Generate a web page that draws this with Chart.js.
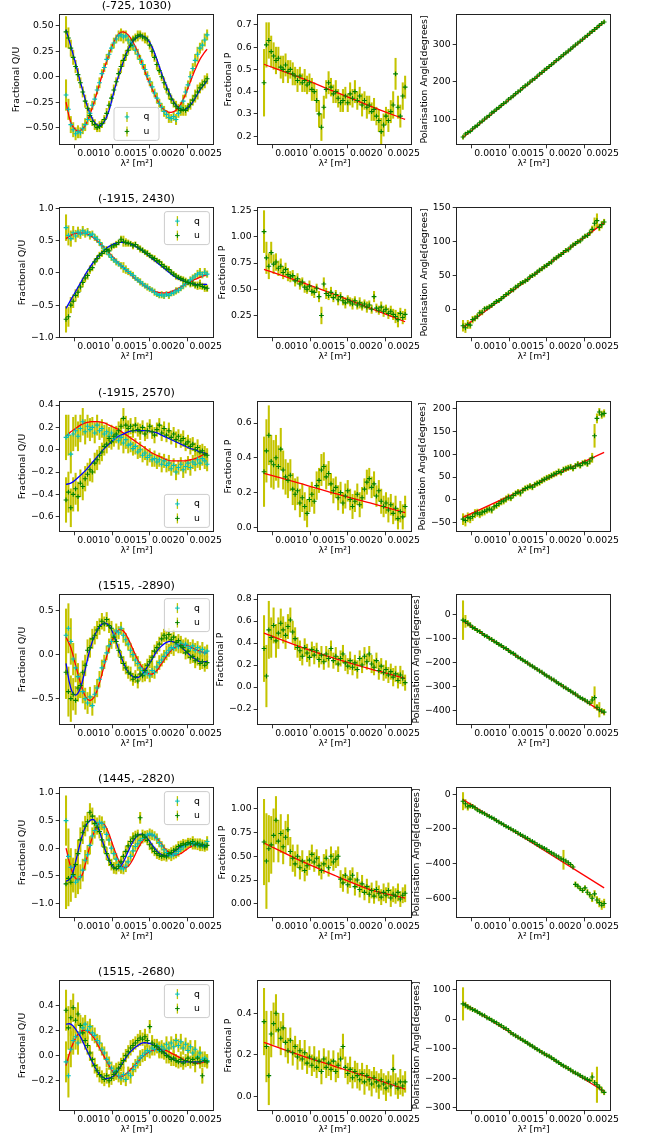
<!DOCTYPE html>
<html>
<head>
<meta charset="utf-8">
<title>Fractional polarisation fits</title>
<script src="https://cdn.jsdelivr.net/npm/chart.js@4.4.1/dist/chart.umd.min.js"></script>
<style>
  html, body { margin: 0; background: #fff; }
  #fig { position: relative; width: 649px; height: 1142px; overflow: hidden; }
  #fig canvas { position: absolute; }
</style>
</head>
<body>
<div id="fig"></div>
<script>
// lambda^2 sample points [m^2]
const lam2 = [
  0.000631, 0.000663, 0.000695, 0.000727, 0.000759, 0.000791, 0.000823, 0.000855, 0.000887, 0.000919,
  0.000951, 0.000983, 0.001015, 0.001047, 0.001079, 0.001111, 0.001143, 0.001175, 0.001207, 0.001239,
  0.001271, 0.001303, 0.001335, 0.001367, 0.001399, 0.001431, 0.001463, 0.001495, 0.001527, 0.001559,
  0.001591, 0.001623, 0.001655, 0.001687, 0.001719, 0.001751, 0.001783, 0.001815, 0.001847, 0.001879,
  0.001911, 0.001943, 0.001975, 0.002007, 0.002039, 0.002071, 0.002103, 0.002135, 0.002167, 0.002199,
  0.002231, 0.002263, 0.002295, 0.002327, 0.002359, 0.002391, 0.002423, 0.002455, 0.002487, 0.002519
];
// where the model curves are evaluated
const lam2Fit = [
  0.000631, 0.000695, 0.000759, 0.000823, 0.000887, 0.000951, 0.001015, 0.001079, 0.001143, 0.001207,
  0.001271, 0.001335, 0.001399, 0.001463, 0.001527, 0.001591, 0.001655, 0.001719, 0.001783, 0.001847,
  0.001911, 0.001975, 0.002039, 0.002103, 0.002167, 0.002231, 0.002295, 0.002359, 0.002423, 0.002487, 0.002519
];
const lam2Lin = [0.000631, 0.0011, 0.001575, 0.00205, 0.002519];
const lam2Ends = [0.000631, 0.002519];
const xTicks = [0.0010, 0.0015, 0.0020, 0.0025];

const positions = ['(-725, 1030)', '(-1915, 2430)', '(-1915, 2570)', '(1515, -2890)', '(1445, -2820)', '(1515, -2680)'];

// ---- (-725, 1030)
const q1 = [-0.18,-0.32,-0.47,-0.52,-0.56,-0.54,-0.55,-0.51,-0.47,-0.42,
  -0.36,-0.28,-0.22,-0.13,-0.06,0.03,0.09,0.17,0.22,0.28,
  0.33,0.37,0.40,0.41,0.39,0.40,0.36,0.33,0.30,0.26,
  0.22,0.17,0.12,0.07,0.01,-0.05,-0.10,-0.16,-0.21,-0.26,
  -0.30,-0.34,-0.37,-0.40,-0.41,-0.39,-0.42,-0.36,-0.30,-0.24,
  -0.15,-0.08,0.00,0.08,0.16,0.22,0.28,0.31,0.36,0.41];
const u1 = [0.44,0.38,0.28,0.19,0.10,0.02,-0.06,-0.15,-0.24,-0.31,
  -0.38,-0.44,-0.47,-0.50,-0.49,-0.46,-0.42,-0.36,-0.28,-0.21,
  -0.13,-0.05,0.03,0.10,0.16,0.21,0.26,0.31,0.36,0.38,
  0.40,0.41,0.39,0.38,0.36,0.31,0.25,0.19,0.12,0.06,
  0.00,-0.06,-0.12,-0.17,-0.22,-0.26,-0.29,-0.31,-0.33,-0.32,
  -0.33,-0.30,-0.27,-0.23,-0.19,-0.15,-0.11,-0.08,-0.05,-0.02];
const qFit1 = [-0.25,-0.45,-0.52,-0.53,-0.48,-0.37,-0.23,-0.07,0.08,0.22,
  0.34,0.42,0.44,0.41,0.34,0.24,0.12,-0.01,-0.12,-0.22,
  -0.30,-0.34,-0.35,-0.33,-0.27,-0.17,-0.05,0.07,0.17,0.24,0.27];
const uFit1 = [0.46,0.30,0.13,-0.05,-0.22,-0.36,-0.45,-0.48,-0.44,-0.33,
  -0.15,0.01,0.15,0.27,0.35,0.39,0.40,0.37,0.29,0.17,
  0.03,-0.09,-0.20,-0.28,-0.32,-0.32,-0.28,-0.21,-0.13,-0.07,-0.04];
const p1 = [0.44,0.61,0.63,0.58,0.56,0.54,0.55,0.51,0.50,0.52,
  0.49,0.50,0.48,0.47,0.45,0.47,0.44,0.45,0.43,0.44,
  0.41,0.40,0.36,0.30,0.24,0.33,0.41,0.44,0.42,0.39,
  0.40,0.37,0.35,0.36,0.38,0.35,0.39,0.37,0.40,0.36,
  0.38,0.34,0.36,0.33,0.34,0.31,0.32,0.29,0.27,0.22,
  0.25,0.29,0.27,0.31,0.34,0.48,0.33,0.29,0.38,0.42];
const pFit1 = [0.523, 0.465, 0.40, 0.335, 0.275];
const ang1 = [54,62,66,69,76,81,85,92,96,102,
  107,111,118,122,128,132,138,143,147,154,
  158,163,169,174,178,185,190,194,200,205,
  209,215,221,225,231,236,241,246,251,257,
  261,267,272,277,282,287,293,298,303,308,
  313,319,323,329,334,339,344,350,355,359];
const angFit1 = [53, 358];
const err1 = [0.15,0.10,0.08,0.07,0.06,0.06,0.05,0.05,0.06,0.05,
  0.05,0.04,0.05,0.04,0.05,0.04,0.04,0.05,0.04,0.04,
  0.05,0.04,0.05,0.06,0.06,0.05,0.04,0.05,0.04,0.04,
  0.05,0.04,0.04,0.05,0.04,0.04,0.05,0.04,0.05,0.04,
  0.04,0.05,0.04,0.05,0.04,0.04,0.05,0.04,0.05,0.06,
  0.05,0.04,0.05,0.05,0.06,0.07,0.05,0.05,0.06,0.05];
const angErr1 = [5,4,4,3,3,3,3,3,3,3, 3,3,3,3,3,3,3,3,3,3, 3,3,3,3,3,3,3,3,3,3,
  3,3,3,3,3,3,3,3,3,3, 3,3,3,3,3,3,3,3,3,3, 3,3,3,3,3,5,3,3,4,4];

// ---- (-1915, 2430)
const q2 = [0.70,0.58,0.53,0.62,0.57,0.63,0.60,0.65,0.61,0.63,
  0.58,0.60,0.55,0.52,0.47,0.42,0.37,0.33,0.28,0.24,
  0.20,0.17,0.14,0.11,0.08,0.05,0.02,-0.01,-0.04,-0.08,
  -0.11,-0.14,-0.17,-0.20,-0.22,-0.25,-0.27,-0.30,-0.33,-0.35,
  -0.34,-0.36,-0.33,-0.35,-0.32,-0.31,-0.28,-0.27,-0.24,-0.20,
  -0.17,-0.14,-0.11,-0.08,-0.05,-0.02,0.00,-0.03,0.01,-0.02];
const u2 = [-0.72,-0.68,-0.50,-0.44,-0.35,-0.30,-0.22,-0.15,-0.08,-0.04,
  0.05,0.08,0.17,0.22,0.27,0.30,0.33,0.36,0.34,0.40,
  0.42,0.44,0.47,0.52,0.49,0.47,0.46,0.45,0.42,0.44,
  0.40,0.37,0.35,0.32,0.30,0.27,0.24,0.22,0.19,0.17,
  0.13,0.10,0.07,0.05,0.01,-0.02,-0.05,-0.07,-0.09,-0.11,
  -0.13,-0.15,-0.17,-0.16,-0.19,-0.20,-0.18,-0.21,-0.23,-0.24];
const qFit2 = [0.53,0.58,0.61,0.62,0.61,0.58,0.53,0.46,0.39,0.31,
  0.23,0.15,0.08,0.01,-0.06,-0.12,-0.18,-0.23,-0.27,-0.30,
  -0.31,-0.31,-0.29,-0.26,-0.22,-0.18,-0.14,-0.10,-0.07,-0.04,-0.03];
const uFit2 = [-0.55,-0.42,-0.29,-0.16,-0.03,0.09,0.19,0.28,0.35,0.41,
  0.45,0.47,0.47,0.46,0.43,0.39,0.34,0.28,0.22,0.16,
  0.10,0.04,-0.02,-0.07,-0.11,-0.14,-0.16,-0.18,-0.18,-0.18,-0.18];
const p2 = [1.05,0.80,0.72,0.85,0.74,0.76,0.70,0.72,0.66,0.69,
  0.64,0.62,0.63,0.58,0.60,0.55,0.57,0.52,0.50,0.53,
  0.48,0.47,0.51,0.43,0.25,0.55,0.46,0.44,0.47,0.42,
  0.45,0.40,0.43,0.39,0.37,0.40,0.38,0.36,0.39,0.35,
  0.37,0.34,0.36,0.33,0.35,0.31,0.43,0.32,0.30,0.33,
  0.29,0.31,0.27,0.29,0.26,0.24,0.21,0.27,0.23,0.26];
const pFit2 = [0.69, 0.575, 0.45, 0.32, 0.19];
const ang2 = [-24,-27,-22,-23,-15,-13,-10,-5,-4,1,
  2,4,6,9,12,13,16,19,22,24,
  28,29,33,35,38,40,42,44,48,50,
  52,55,58,60,63,65,68,70,74,76,
  79,81,84,87,88,92,95,97,100,101,
  105,108,109,113,118,127,131,121,125,129];
const angFit2 = [-27, 128];
const err2 = [0.20,0.15,0.12,0.10,0.09,0.08,0.07,0.07,0.06,0.06,
  0.06,0.05,0.05,0.05,0.05,0.05,0.04,0.05,0.04,0.05,
  0.04,0.05,0.04,0.05,0.08,0.06,0.05,0.04,0.05,0.04,
  0.04,0.05,0.04,0.04,0.05,0.04,0.04,0.05,0.04,0.04,
  0.05,0.04,0.04,0.05,0.04,0.04,0.05,0.04,0.04,0.05,
  0.05,0.04,0.05,0.05,0.05,0.06,0.07,0.05,0.06,0.05];
const angErr2 = [8,7,6,5,5,4,4,4,4,3, 3,3,3,3,3,3,3,3,3,3, 3,3,3,3,3,3,3,3,3,3,
  3,3,3,3,3,3,3,3,3,3, 3,3,3,3,3,3,3,3,3,3, 3,3,3,4,5,8,10,5,5,4];

// ---- (-1915, 2570)
const q3 = [0.11,0.13,-0.04,0.14,0.17,0.12,0.19,0.25,0.16,0.21,
  0.18,0.20,0.15,0.22,0.17,0.19,0.14,0.16,0.12,0.15,
  0.10,0.13,0.08,0.11,0.06,0.09,0.04,0.05,0.01,0.03,
  -0.02,0.00,-0.05,-0.03,-0.07,-0.05,-0.09,-0.08,-0.11,-0.09,
  -0.13,-0.10,-0.14,-0.12,-0.17,-0.14,-0.20,-0.16,-0.13,-0.18,
  -0.15,-0.12,-0.16,-0.11,-0.13,-0.09,-0.12,-0.08,-0.10,-0.13];
const u3 = [-0.45,-0.38,-0.52,-0.40,-0.35,-0.42,-0.30,-0.33,-0.26,-0.22,
  -0.18,-0.20,-0.12,-0.09,-0.05,-0.02,0.03,0.05,0.10,0.07,
  0.12,0.14,0.17,0.21,0.28,0.22,0.19,0.21,0.17,0.22,
  0.18,0.16,0.20,0.14,0.17,0.21,0.16,0.13,0.18,0.22,
  0.15,0.19,0.13,0.17,0.11,0.14,0.09,0.12,0.08,0.10,
  0.05,0.07,0.03,0.05,0.00,0.02,-0.02,-0.01,-0.04,-0.05];
const qFit3 = [0.12,0.16,0.19,0.22,0.24,0.25,0.25,0.25,0.24,0.22,
  0.20,0.18,0.15,0.12,0.09,0.06,0.03,0.00,-0.03,-0.05,
  -0.07,-0.09,-0.10,-0.10,-0.10,-0.10,-0.09,-0.08,-0.06,-0.04,-0.03];
const uFit3 = [-0.31,-0.30,-0.27,-0.23,-0.19,-0.14,-0.09,-0.04,0.01,0.05,
  0.09,0.12,0.14,0.16,0.17,0.17,0.17,0.17,0.16,0.15,
  0.13,0.11,0.09,0.07,0.05,0.03,0.01,0.00,-0.02,-0.03,-0.04];
const p3 = [0.32,0.44,0.53,0.38,0.36,0.40,0.35,0.45,0.33,0.29,
  0.27,0.30,0.22,0.19,0.21,0.14,0.17,0.12,0.08,0.16,
  0.19,0.15,0.24,0.27,0.33,0.35,0.29,0.31,0.25,0.21,
  0.23,0.17,0.20,0.14,0.18,0.21,0.16,0.12,0.15,0.19,
  0.13,0.17,0.22,0.26,0.28,0.23,0.25,0.18,0.21,0.15,
  0.12,0.14,0.10,0.13,0.08,0.11,0.05,0.09,0.06,0.12];
const pFit3 = [0.31, 0.255, 0.195, 0.14, 0.085];
const ang3 = [-42,-45,-38,-40,-36,-30,-28,-31,-27,-25,
  -22,-20,-22,-15,-12,-8,-4,-2,2,6,
  4,10,14,17,15,21,25,27,30,28,
  33,36,38,42,45,48,50,53,56,58,
  62,60,66,68,70,72,69,74,78,75,
  80,82,79,85,92,140,178,192,186,189];
const angFit3 = [-38, 104];
const err3 = [0.20,0.18,0.17,0.15,0.14,0.13,0.12,0.12,0.11,0.10,
  0.10,0.09,0.09,0.09,0.08,0.08,0.08,0.08,0.08,0.07,
  0.07,0.07,0.08,0.07,0.09,0.08,0.07,0.07,0.06,0.07,
  0.06,0.07,0.06,0.06,0.07,0.06,0.06,0.07,0.06,0.06,
  0.07,0.06,0.06,0.07,0.06,0.06,0.07,0.06,0.06,0.07,
  0.06,0.06,0.07,0.06,0.06,0.07,0.06,0.06,0.07,0.06];
const angErr3 = [12,12,10,10,9,9,8,8,8,8, 7,7,7,7,7,7,7,7,7,7, 6,6,6,6,7,6,6,6,6,6,
  6,6,6,6,6,6,6,6,6,6, 6,6,6,6,6,6,6,6,6,6, 6,6,6,7,10,25,10,8,8,8];

// ---- (1515, -2890)
const q4 = [0.22,0.30,0.15,-0.05,-0.15,-0.25,-0.35,-0.42,-0.50,-0.55,
  -0.48,-0.58,-0.45,-0.38,-0.28,-0.15,-0.08,0.02,0.10,0.15,
  0.22,0.27,0.25,0.30,0.22,0.17,0.12,0.05,0.00,-0.06,
  -0.10,-0.15,-0.18,-0.22,-0.20,-0.24,-0.18,-0.20,-0.14,-0.09,
  -0.06,-0.02,0.02,0.05,0.08,0.07,0.11,0.09,0.13,0.10,
  0.12,0.09,0.07,0.10,0.05,0.08,0.03,0.06,0.02,0.04];
const u4 = [-0.20,-0.42,-0.50,-0.45,-0.52,-0.38,-0.35,-0.20,-0.12,0.05,
  0.08,0.18,0.22,0.28,0.32,0.38,0.35,0.40,0.33,0.30,
  0.20,0.15,0.05,-0.03,-0.10,-0.15,-0.20,-0.22,-0.28,-0.25,
  -0.30,-0.22,-0.24,-0.18,-0.12,-0.08,-0.03,0.04,0.08,0.12,
  0.18,0.22,0.19,0.23,0.17,0.20,0.14,0.16,0.10,0.08,
  0.02,0.04,-0.03,-0.02,-0.07,-0.05,-0.10,-0.08,-0.12,-0.09];
const qFit4 = [0.20,0.08,-0.12,-0.32,-0.47,-0.52,-0.47,-0.32,-0.12,0.07,
  0.21,0.28,0.27,0.18,0.06,-0.06,-0.15,-0.21,-0.22,-0.18,
  -0.10,-0.02,0.05,0.09,0.11,0.11,0.09,0.06,0.04,0.02,0.02];
const uFit4 = [-0.10,-0.38,-0.46,-0.38,-0.17,0.06,0.22,0.32,0.36,0.33,
  0.22,0.06,-0.09,-0.20,-0.25,-0.26,-0.22,-0.14,-0.05,0.04,
  0.10,0.14,0.15,0.13,0.09,0.04,-0.01,-0.05,-0.08,-0.08,-0.08];
const p4 = [0.35,0.10,0.52,0.45,0.56,0.42,0.49,0.58,0.52,0.47,
  0.55,0.61,0.50,0.44,0.36,0.33,0.28,0.36,0.31,0.27,
  0.34,0.29,0.33,0.25,0.29,0.23,0.30,0.26,0.35,0.24,
  0.28,0.21,0.26,0.30,0.22,0.19,0.24,0.18,0.22,0.16,
  0.26,0.20,0.28,0.23,0.30,0.21,0.18,0.24,0.15,0.19,
  0.13,0.16,0.11,0.14,0.09,0.12,0.06,0.11,0.08,0.04];
const pFit4 = [0.49, 0.37, 0.26, 0.165, 0.08];
const ang4 = [-25,-30,-38,-45,-55,-60,-68,-72,-80,-88,
  -92,-100,-105,-112,-118,-125,-130,-138,-142,-150,
  -158,-162,-170,-178,-183,-190,-196,-202,-210,-215,
  -222,-228,-235,-240,-248,-255,-260,-268,-272,-280,
  -287,-292,-300,-305,-312,-318,-325,-330,-338,-345,
  -350,-355,-362,-368,-355,-345,-385,-395,-400,-405];
const angFit4 = [-28, -410];
const err4 = [0.30,0.28,0.26,0.18,0.16,0.15,0.14,0.13,0.12,0.12,
  0.11,0.11,0.10,0.10,0.09,0.09,0.08,0.08,0.08,0.08,
  0.07,0.08,0.07,0.07,0.08,0.07,0.07,0.08,0.07,0.07,
  0.08,0.07,0.07,0.08,0.07,0.07,0.08,0.07,0.07,0.08,
  0.07,0.07,0.08,0.07,0.07,0.08,0.07,0.07,0.08,0.07,
  0.07,0.08,0.07,0.07,0.08,0.07,0.07,0.08,0.07,0.07];
const angErr4 = [80,25,12,10,8,8,7,7,6,6, 6,6,6,6,6,6,6,6,6,6, 5,5,5,5,5,5,5,5,5,5,
  5,5,5,5,5,5,5,5,5,5, 5,5,5,5,5,5,5,5,5,5, 6,6,6,8,15,45,12,30,10,12];

// ---- (1445, -2820)
const q5 = [0.50,-0.15,-0.35,-0.50,-0.62,-0.58,-0.52,-0.40,-0.22,-0.12,
  0.05,0.22,0.32,0.42,0.47,0.45,0.38,0.25,0.15,0.00,
  -0.10,-0.20,-0.30,-0.36,-0.38,-0.33,-0.25,-0.15,-0.05,0.03,
  0.08,0.14,0.18,0.22,0.24,0.26,0.24,0.22,0.17,0.10,
  0.04,-0.03,-0.08,-0.12,-0.14,-0.12,-0.10,-0.06,-0.02,0.02,
  0.05,0.08,0.10,0.07,0.09,0.05,0.08,0.03,0.06,0.12];
const u5 = [-0.65,-0.55,-0.62,-0.48,-0.30,-0.10,0.15,0.28,0.40,0.48,
  0.65,0.58,0.45,0.38,0.30,0.15,0.02,-0.10,-0.22,-0.30,
  -0.36,-0.37,-0.33,-0.25,-0.15,-0.06,0.04,0.12,0.18,0.22,
  0.24,0.55,0.24,0.20,0.14,0.06,0.00,-0.06,-0.10,-0.13,
  -0.15,-0.13,-0.16,-0.10,-0.08,-0.04,-0.02,0.03,0.05,0.08,
  0.06,0.10,0.08,0.12,0.06,0.09,0.04,0.07,0.02,0.05];
const qFit5 = [0.00,-0.35,-0.55,-0.55,-0.30,0.05,0.32,0.45,0.43,0.25,
  0.00,-0.22,-0.35,-0.33,-0.20,-0.02,0.13,0.22,0.24,0.18,
  0.07,-0.04,-0.11,-0.13,-0.10,-0.04,0.02,0.06,0.07,0.06,0.05];
const uFit5 = [-0.60,-0.55,-0.25,0.10,0.38,0.50,0.50,0.30,0.02,-0.22,
  -0.35,-0.37,-0.25,-0.06,0.12,0.23,0.25,0.18,0.06,-0.05,
  -0.12,-0.14,-0.10,-0.04,0.02,0.06,0.08,0.08,0.06,0.04,0.03];
const p5 = [0.65,0.45,0.58,0.62,0.72,0.88,0.66,0.74,0.60,0.70,
  0.78,0.55,0.48,0.42,0.50,0.38,0.45,0.35,0.40,0.46,
  0.52,0.44,0.48,0.40,0.35,0.42,0.48,0.38,0.50,0.44,
  0.47,0.50,0.26,0.22,0.30,0.20,0.26,0.30,0.18,0.25,
  0.15,0.21,0.12,0.18,0.10,0.14,0.08,0.15,0.11,0.07,
  0.12,0.09,0.14,0.06,0.10,0.08,0.12,0.05,0.09,0.11];
const pFit5 = [0.64, 0.46, 0.30, 0.15, 0.06];
const ang5 = [-40,-55,-72,-65,-70,-78,-90,-98,-105,-112,
  -120,-128,-135,-142,-152,-160,-168,-176,-185,-192,
  -200,-208,-215,-225,-232,-240,-248,-255,-265,-272,
  -280,-290,-298,-305,-312,-320,-330,-338,-345,-355,
  -362,-372,-378,-385,-395,-405,-420,-520,-530,-545,
  -555,-540,-565,-580,-600,-575,-610,-625,-640,-630];
const angFit5 = [-30, -540];
const err5 = [0.45,0.50,0.35,0.30,0.28,0.25,0.22,0.20,0.18,0.17,
  0.16,0.15,0.14,0.13,0.12,0.12,0.11,0.11,0.10,0.10,
  0.10,0.10,0.09,0.10,0.09,0.10,0.09,0.09,0.10,0.09,
  0.09,0.10,0.09,0.09,0.08,0.09,0.09,0.08,0.09,0.08,
  0.08,0.09,0.08,0.08,0.09,0.08,0.08,0.09,0.08,0.08,
  0.09,0.08,0.08,0.09,0.08,0.08,0.09,0.08,0.08,0.09];
const angErr5 = [50,25,20,15,12,10,8,8,7,7, 6,6,6,6,6,6,6,6,6,6, 6,6,6,6,6,6,6,6,6,6,
  6,6,6,6,6,6,6,6,6,6, 6,6,55,6,6,6,10,15,12,12, 12,12,15,15,20,20,20,25,25,25];

// ---- (1515, -2680)
const q6 = [-0.05,-0.16,0.05,0.12,0.15,0.10,0.18,0.22,0.25,0.20,
  0.23,0.18,0.16,0.12,0.10,0.05,0.02,-0.03,-0.06,-0.10,
  -0.13,-0.12,-0.16,-0.18,-0.15,-0.19,-0.14,-0.16,-0.11,-0.08,
  -0.05,-0.02,0.00,0.02,0.04,0.03,0.06,0.05,0.08,0.04,
  0.07,0.05,0.09,0.06,0.10,0.07,0.12,0.08,0.11,0.06,
  0.09,0.04,0.07,0.02,0.05,-0.01,0.02,-0.03,-0.02,-0.04];
const u6 = [0.36,0.22,0.30,0.38,0.28,0.33,0.24,0.18,0.12,0.08,
  0.02,-0.03,-0.08,-0.12,-0.15,-0.17,-0.19,-0.16,-0.20,-0.18,
  -0.15,-0.13,-0.10,-0.07,-0.04,0.00,0.03,0.06,0.08,0.10,
  0.12,0.14,0.13,0.15,0.12,0.23,0.10,0.08,0.07,0.05,
  0.03,0.02,0.00,-0.01,-0.03,-0.02,-0.04,-0.05,-0.03,-0.06,
  -0.04,-0.02,-0.05,-0.03,-0.06,-0.02,-0.05,-0.16,-0.04,-0.05];
const qFit6 = [-0.08,0.05,0.14,0.19,0.20,0.18,0.13,0.06,-0.01,-0.08,
  -0.14,-0.17,-0.16,-0.13,-0.09,-0.05,-0.01,0.02,0.04,0.05,
  0.05,0.04,0.02,0.00,-0.02,-0.04,-0.05,-0.06,-0.06,-0.05,-0.05];
const uFit6 = [0.25,0.25,0.21,0.15,0.07,-0.01,-0.09,-0.15,-0.18,-0.18,
  -0.16,-0.11,-0.05,0.01,0.05,0.08,0.10,0.10,0.09,0.07,
  0.04,0.01,-0.02,-0.04,-0.05,-0.05,-0.05,-0.05,-0.05,-0.04,-0.04];
const p6 = [0.36,0.24,0.10,0.30,0.35,0.40,0.32,0.28,0.33,0.26,
  0.22,0.27,0.21,0.24,0.19,0.22,0.18,0.21,0.16,0.19,
  0.15,0.18,0.14,0.17,0.12,0.18,0.14,0.16,0.13,0.17,
  0.12,0.15,0.18,0.24,0.14,0.11,0.13,0.09,0.12,0.10,
  0.08,0.11,0.07,0.10,0.08,0.06,0.09,0.07,0.05,0.08,
  0.06,0.04,0.07,0.05,0.13,0.06,0.04,0.07,0.05,0.07];
const pFit6 = [0.26, 0.20, 0.145, 0.09, 0.035];
const ang6 = [52,48,42,38,33,30,25,20,15,12,
  5,2,-3,-8,-12,-18,-22,-28,-32,-38,
  -46,-51,-56,-61,-66,-71,-76,-81,-87,-91,
  -97,-102,-107,-112,-117,-122,-125,-131,-136,-142,
  -147,-153,-158,-162,-167,-172,-178,-182,-186,-191,
  -196,-200,-204,-208,-196,-215,-222,-230,-240,-248];
const angFit6 = [55, -245];
const err6 = [0.16,0.17,0.14,0.11,0.10,0.09,0.08,0.08,0.07,0.07,
  0.06,0.06,0.06,0.05,0.06,0.05,0.05,0.06,0.05,0.05,
  0.05,0.06,0.05,0.05,0.06,0.05,0.05,0.06,0.05,0.05,
  0.05,0.06,0.05,0.06,0.05,0.05,0.06,0.05,0.05,0.06,
  0.05,0.05,0.06,0.05,0.05,0.06,0.05,0.05,0.06,0.05,
  0.05,0.06,0.05,0.05,0.07,0.05,0.05,0.06,0.05,0.05];
const angErr6 = [55,10,8,7,6,6,5,5,5,5, 5,5,5,5,5,5,5,5,5,5, 5,5,5,5,5,5,5,5,5,5,
  5,5,5,5,5,5,5,5,5,5, 5,5,5,5,5,5,5,5,5,5, 5,5,5,6,15,8,60,8,10,8];

// axis limits and tick values per row
const quLimits = [[-0.67, 0.615], [-1.01, 1.02], [-0.737, 0.436], [-0.8, 0.69], [-1.27, 1.11], [-0.44, 0.6]];
const quTicks = [[-0.5, -0.25, 0, 0.25, 0.5], [-1, -0.5, 0, 0.5, 1], [-0.6, -0.4, -0.2, 0, 0.2, 0.4],
  [-0.5, 0, 0.5], [-1, -0.5, 0, 0.5, 1], [-0.2, 0, 0.2, 0.4]];
const pLimits = [[0.16, 0.749], [0.035, 1.285], [-0.027, 0.727], [-0.345, 0.846], [-0.15, 1.23], [-0.07, 0.56]];
const pTicks = [[0.2, 0.3, 0.4, 0.5, 0.6, 0.7], [0.25, 0.5, 0.75, 1, 1.25], [0, 0.2, 0.4, 0.6],
  [-0.2, 0, 0.2, 0.4, 0.6, 0.8], [0, 0.25, 0.5, 0.75, 1], [0, 0.2, 0.4]];
const angLimits = [[33, 380], [-42, 151], [-70, 216], [-458, 83], [-714, 42], [-311, 133]];
const angTicks = [[100, 200, 300], [0, 50, 100, 150], [-50, 0, 50, 100, 150, 200],
  [-400, -300, -200, -100, 0], [-600, -400, -200, 0], [-300, -200, -100, 0, 100]];
const legendLoc = ['lower center', 'upper right', 'lower right', 'upper right', 'upper right', 'upper right'];

// ---------------------------------------------------------------------------
Chart.defaults.font.family = '"DejaVu Sans", sans-serif';
Chart.defaults.color = '#000';

const CYAN = '#00bfbf', GREEN = '#008000', ERR = '#c4c400', RED = '#ff0000', BLUE = '#0000ff';
const TICK_SIZE = 9.3, TITLE_SIZE = 11.2;
const AX_W = 155, AX_H = 131;
const PAD_L = 58, PAD_T = 16, PAD_R = 14, PAD_B = 34;
const TICK_LEN = 3.3;
const X_MIN = 0.000537, X_MAX = 0.002611;
const colLeft = [59, 257, 456];
const rowTop = [14, 207, 401, 594, 787, 980];

const fig = document.getElementById('fig');
const measure = document.createElement('canvas').getContext('2d');
measure.font = TICK_SIZE + 'px "DejaVu Sans"';

function decimals(ticks) {
  return Math.max(...ticks.map(t => (String(t).split('.')[1] || '').length));
}
function fmt(v, d) {
  return (v < 0 ? '\u2212' : '') + Math.abs(v).toFixed(d);
}
function pts(xs, ys) { return ys.map((y, i) => ({ x: xs[i], y })); }
function bars(xs, ys, es) { return ys.map((y, i) => ({ x: xs[i], y: [y - es[i], y + es[i]] })); }

// lower order = drawn on top
function errSet(xs, ys, es, order) {
  return { type: 'bar', data: bars(xs, ys, es), backgroundColor: ERR, borderWidth: 0,
    barThickness: 1.4, grouped: false, order };
}
function markSet(xs, ys, color, order) {
  return { type: 'scatter', data: pts(xs, ys), pointStyle: 'cross', pointRadius: 2.4,
    borderWidth: 1.1, pointBorderWidth: 1.1, borderColor: color, backgroundColor: color, order };
}
function lineSet(xs, ys, color, order, tension) {
  return { type: 'line', data: pts(xs, ys), borderColor: color, borderWidth: 1.3,
    pointRadius: 0, tension, fill: false, order };
}

// box round the plot area
const spines = {
  id: 'spines',
  afterDraw(chart) {
    const { ctx, chartArea: a } = chart;
    ctx.save();
    ctx.strokeStyle = '#222';
    ctx.lineWidth = 1;
    ctx.strokeRect(a.left + 0.5, a.top + 0.5, a.right - a.left - 1, a.bottom - a.top - 1);
    ctx.restore();
  }
};

// q / u key with the errorbar handle
const legendBox = {
  id: 'legendBox',
  afterDraw(chart, args, opts) {
    if (!opts.loc) return;
    const { ctx, chartArea: a } = chart;
    const w = 45, h = 33, gap = 4.6;
    const x = opts.loc.endsWith('right') ? a.right - gap - w : (a.left + a.right - w) / 2;
    const y = opts.loc.startsWith('upper') ? a.top + gap : a.bottom - gap - h;
    ctx.save();
    ctx.beginPath();
    ctx.roundRect(x, y, w, h, 2.5);
    ctx.fillStyle = 'rgba(255,255,255,0.8)';
    ctx.fill();
    ctx.strokeStyle = '#cccccc';
    ctx.lineWidth = 1;
    ctx.stroke();
    ctx.font = TICK_SIZE + 'px "DejaVu Sans"';
    ctx.textBaseline = 'middle';
    [['q', CYAN], ['u', GREEN]].forEach(([label, color], k) => {
      const cy = y + 9.5 + k * 14.5, cx = x + 13;
      ctx.strokeStyle = ERR;
      ctx.lineWidth = 1.3;
      ctx.beginPath(); ctx.moveTo(cx, cy - 5); ctx.lineTo(cx, cy + 5); ctx.stroke();
      ctx.strokeStyle = color;
      ctx.lineWidth = 1;
      ctx.beginPath();
      ctx.moveTo(cx - 2.3, cy); ctx.lineTo(cx + 2.3, cy);
      ctx.moveTo(cx, cy - 2.3); ctx.lineTo(cx, cy + 2.3);
      ctx.stroke();
      ctx.fillStyle = '#000';
      ctx.fillText(label, x + 29.5, cy);
    });
    ctx.restore();
  }
};

function panel(col, row, datasets, lim, ticks, yTitle, extra) {
  const cv = document.createElement('canvas');
  cv.width = PAD_L + AX_W + PAD_R;
  cv.height = PAD_T + AX_H + PAD_B;
  cv.style.left = (colLeft[col] - PAD_L) + 'px';
  cv.style.top = (rowTop[row] - PAD_T) + 'px';
  fig.appendChild(cv);

  const d = decimals(ticks);
  const widest = Math.max(...ticks.map(t => measure.measureText(fmt(t, d)).width));
  const titleH = extra.heading ? TITLE_SIZE * 1.2 + 1 : 0;
  const tickGrid = { drawOnChartArea: false, drawTicks: true, tickLength: TICK_LEN,
    color: '#000', tickColor: '#000', lineWidth: 0.8 };

  new Chart(cv, {
    type: 'scatter',
    data: { datasets },
    options: {
      responsive: false,
      devicePixelRatio: 1,
      animation: false,
      events: [],
      layout: { padding: { left: 0, top: PAD_T - titleH, right: PAD_R, bottom: 0 } },
      plugins: {
        legend: { display: false },
        tooltip: { enabled: false },
        title: {
          display: !!extra.heading, text: extra.heading || '', color: '#000', fullSize: false,
          align: 'center', font: { size: TITLE_SIZE, weight: 'normal' }, padding: { top: 0, bottom: 1 }
        },
        legendBox: { loc: extra.legend }
      },
      scales: {
        x: {
          type: 'linear', min: X_MIN, max: X_MAX, offset: false,
          afterBuildTicks: s => { s.ticks = xTicks.map(v => ({ value: v })); },
          afterFit: s => { s.height = PAD_B; },
          ticks: { font: { size: TICK_SIZE }, padding: -0.6, maxRotation: 0, autoSkip: false,
            callback: v => v.toFixed(4) },
          grid: tickGrid,
          border: { display: false },
          title: { display: true, text: 'λ² [m²]', font: { size: TICK_SIZE },
            padding: { top: 0, bottom: 9.6 } }
        },
        y: {
          type: 'linear', min: lim[0], max: lim[1],
          afterBuildTicks: s => { s.ticks = ticks.map(v => ({ value: v })); },
          afterFit: s => { s.width = PAD_L; },
          ticks: { font: { size: TICK_SIZE }, padding: 2.1, callback: v => fmt(v, d) },
          grid: tickGrid,
          border: { display: false },
          title: { display: true, text: yTitle, font: { size: TICK_SIZE },
            padding: { top: 38.8 - widest, bottom: 0 } }
        }
      }
    },
    plugins: [spines, legendBox]
  });
}

const rows = [
  { q: q1, u: u1, qFit: qFit1, uFit: uFit1, p: p1, pFit: pFit1, ang: ang1, angFit: angFit1, err: err1, angErr: angErr1 },
  { q: q2, u: u2, qFit: qFit2, uFit: uFit2, p: p2, pFit: pFit2, ang: ang2, angFit: angFit2, err: err2, angErr: angErr2 },
  { q: q3, u: u3, qFit: qFit3, uFit: uFit3, p: p3, pFit: pFit3, ang: ang3, angFit: angFit3, err: err3, angErr: angErr3 },
  { q: q4, u: u4, qFit: qFit4, uFit: uFit4, p: p4, pFit: pFit4, ang: ang4, angFit: angFit4, err: err4, angErr: angErr4 },
  { q: q5, u: u5, qFit: qFit5, uFit: uFit5, p: p5, pFit: pFit5, ang: ang5, angFit: angFit5, err: err5, angErr: angErr5 },
  { q: q6, u: u6, qFit: qFit6, uFit: uFit6, p: p6, pFit: pFit6, ang: ang6, angFit: angFit6, err: err6, angErr: angErr6 }
];

rows.forEach((r, k) => {
  panel(0, k, [
    errSet(lam2, r.q, r.err, 6),
    errSet(lam2, r.u, r.err, 5),
    lineSet(lam2Fit, r.qFit, RED, 4, 0.4),
    lineSet(lam2Fit, r.uFit, BLUE, 3, 0.4),
    markSet(lam2, r.q, CYAN, 2),
    markSet(lam2, r.u, GREEN, 1)
  ], quLimits[k], quTicks[k], 'Fractional Q/U', { heading: positions[k], legend: legendLoc[k] });

  panel(1, k, [
    errSet(lam2, r.p, r.err, 3),
    lineSet(lam2Lin, r.pFit, RED, 2, 0.3),
    markSet(lam2, r.p, GREEN, 1)
  ], pLimits[k], pTicks[k], 'Fractional P', {});

  panel(2, k, [
    errSet(lam2, r.ang, r.angErr, 3),
    lineSet(lam2Ends, r.angFit, RED, 2, 0),
    markSet(lam2, r.ang, GREEN, 1)
  ], angLimits[k], angTicks[k], 'Polarisation Angle[degrees]', {});
});
</script>
</body>
</html>
